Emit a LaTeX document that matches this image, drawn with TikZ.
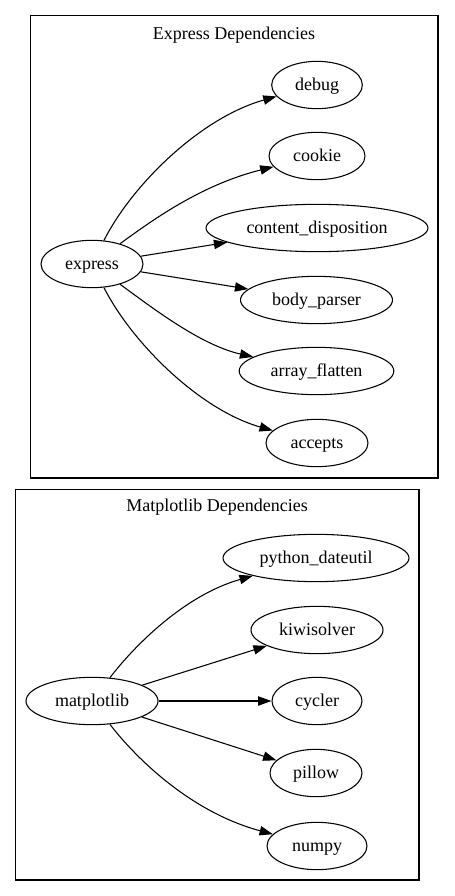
\documentclass[tikz,border=0pt]{standalone}
\usepackage{fontspec}
\setmainfont{Liberation Serif}
\newfontfamily\gvfont{Liberation Serif}
\usetikzlibrary{shapes.geometric,arrows.meta}
\begin{document}
\begin{tikzpicture}[x=0.75pt,y=-0.75pt,
  every node/.style={font=\gvfont\fontsize{13.5}{16}\selectfont,text height=8.6pt,text depth=0pt},
  dep/.style={draw,ellipse,inner sep=0pt,line width=0.8pt,minimum height=35.5pt},
  edge/.style={draw,line width=0.8pt,-{Triangle[length=10pt,width=7pt]}},
  cluster/.style={draw,line width=0.8pt}]
\useasboundingbox (0,0) rectangle (454,896);
% clusters
\draw[cluster] (30.5,15.5) rectangle (438,478);
\node (t1) at (234,33.6) {Express Dependencies};
\draw[cluster] (15.5,489.5) rectangle (419,880);
\node (t2) at (217,506) {Matplotlib Dependencies};
% express nodes
\node[dep,minimum width=76.5pt] (express) at (92,264) {express};
\node[dep,minimum width=68pt] (debug) at (317,85) {debug};
\node[dep,minimum width=72pt] (cookie) at (317,156) {cookie};
\node[dep,minimum width=166.5pt] (cdisp) at (317,228) {content\_disposition};
\node[dep,minimum width=114pt] (bparser) at (316.5,300) {body\_parser};
\node[dep,minimum width=116pt] (aflat) at (316.5,371) {array\_flatten};
\node[dep,minimum width=76.5pt] (accepts) at (317,443) {accepts};
% matplotlib nodes
\node[dep,minimum width=99pt] (mpl) at (92,701) {matplotlib};
\node[dep,minimum width=139.5pt] (pdu) at (316,558) {python\_dateutil};
\node[dep,minimum width=99pt] (kiwi) at (317,630) {kiwisolver};
\node[dep,minimum width=67.5pt] (cycler) at (317,701) {cycler};
\node[dep,minimum width=69pt] (pillow) at (316,773) {pillow};
\node[dep,minimum width=75pt] (numpy) at (317,846) {numpy};
% express edges
\draw[edge] (express) .. controls (132,185) and (200,118) .. (debug);
\draw[edge] (express) .. controls (150,222) and (200,185) .. (cookie);
\draw[edge] (express) -- (cdisp);
\draw[edge] (express) -- (bparser);
\draw[edge] (express) .. controls (150,306) and (200,345) .. (aflat);
\draw[edge] (express) .. controls (132,343) and (200,410) .. (accepts);
% matplotlib edges
\draw[edge] (mpl) .. controls (135,645) and (185,595) .. (pdu);
\draw[edge] (mpl) -- (kiwi);
\draw[edge] (mpl) -- (cycler);
\draw[edge] (mpl) -- (pillow);
\draw[edge] (mpl) .. controls (135,757) and (190,812) .. (numpy);
\end{tikzpicture}
\end{document}
